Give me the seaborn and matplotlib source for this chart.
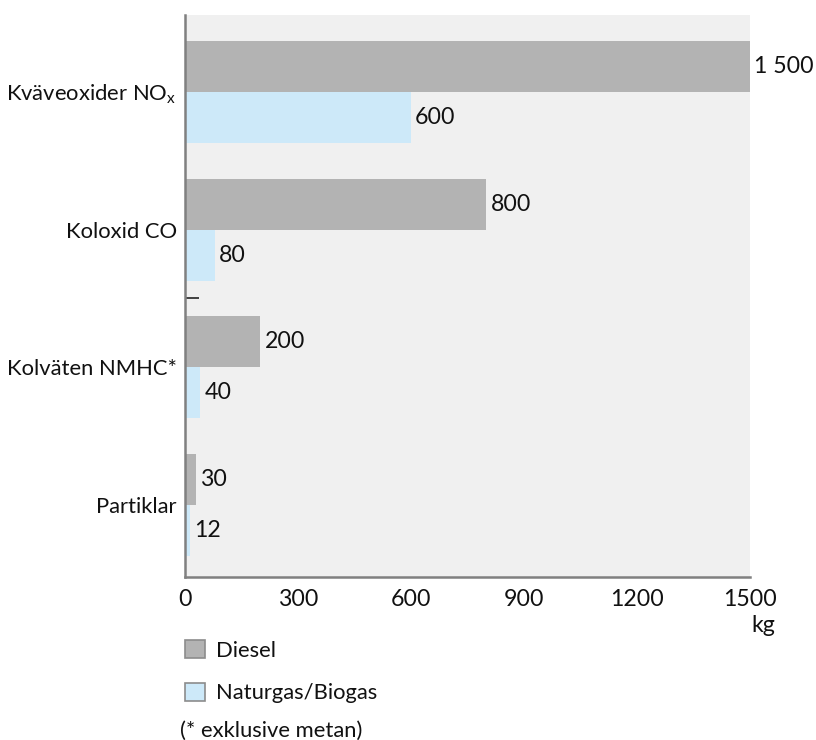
import matplotlib
matplotlib.use("Agg")
import matplotlib.pyplot as plt
import seaborn as sns
import pandas as pd

# Emissions per vehicle and year, kg
categories = ["Kväveoxider NO$_\\mathregular{x}$", "Koloxid CO", "Kolväten NMHC*", "Partiklar"]
fuels = ["Diesel", "Naturgas/Biogas"]
diesel = [1500, 800, 200, 30]
gas = [600, 80, 40, 12]
xticks = [0, 300, 600, 900, 1200, 1500]

colors = {"Diesel": "#b3b3b3", "Naturgas/Biogas": "#cde9f9"}

df = pd.DataFrame({
    "category": categories * 2,
    "fuel": [fuels[0]] * len(categories) + [fuels[1]] * len(categories),
    "kg": diesel + gas,
})

sns.set_theme(style="white")
plt.rcParams["font.family"] = ["Lato", "DejaVu Sans"]
plt.rcParams["mathtext.default"] = "regular"

fig = plt.figure(figsize=(8.16, 7.4), dpi=100, facecolor="white")
ax = fig.add_axes([0.2267, 0.2203, 0.6924, 0.7595])
ax.set_facecolor("#f0f0f0")

sns.barplot(data=df, y="category", x="kg", hue="fuel", order=categories,
            hue_order=fuels, palette=colors, orient="h", width=0.74,
            saturation=1, edgecolor="none", linewidth=0, ax=ax)

fs = 15.8
ink = "#111111"

def fmt(v):
    return f"{int(v):,}".replace(",", " ")

for cont in ax.containers:
    ax.bar_label(cont, labels=[fmt(v) for v in cont.datavalues], padding=3,
                 fontsize=16.7, color=ink)

ax.set_xlim(0, 1500)
ax.set_ylim(3.521, -0.557)
ax.set_xticks(xticks)
ax.set_xticklabels([str(t) for t in xticks])
ax.set_xlabel("")
ax.set_ylabel("")

for s in ["top", "right"]:
    ax.spines[s].set_visible(False)
for s in ["left", "bottom"]:
    ax.spines[s].set_color("#808080")
    ax.spines[s].set_linewidth(1.8)

ax.tick_params(axis="x", direction="in", length=10, width=1.3, color="#555555",
               pad=9, labelsize=16.7, labelcolor=ink)
ax.tick_params(axis="y", length=0, pad=6, labelsize=fs, labelcolor=ink)

# single divider tick between the upper and lower pairs of groups
ax.set_yticks([1.5], minor=True)
ax.tick_params(axis="y", which="minor", direction="in", length=10, width=1.3,
               color="#333333", left=True)

fig.text(775 / 816, 1 - 625 / 740, "kg", ha="right", va="center",
         fontsize=16.7, color=ink)

handles, labels = ax.get_legend_handles_labels()
if ax.legend_:
    ax.legend_.remove()
leg = fig.legend(handles, labels, loc="upper left",
                 bbox_to_anchor=(185 / 816, 1 - 640 / 740), frameon=False,
                 fontsize=fs, handlelength=0.9, handleheight=0.9,
                 handletextpad=0.5, labelspacing=1.0, borderpad=0,
                 borderaxespad=0, labelcolor=ink)
for h in leg.legend_handles:
    h.set_edgecolor("#8c8c8c")
    h.set_linewidth(1.2)

fig.text(180 / 816, 1 - 731 / 740, "(* exklusive metan)", ha="left",
         va="center", fontsize=fs, color=ink)

fig.savefig("out.png", dpi=100, facecolor="white")
